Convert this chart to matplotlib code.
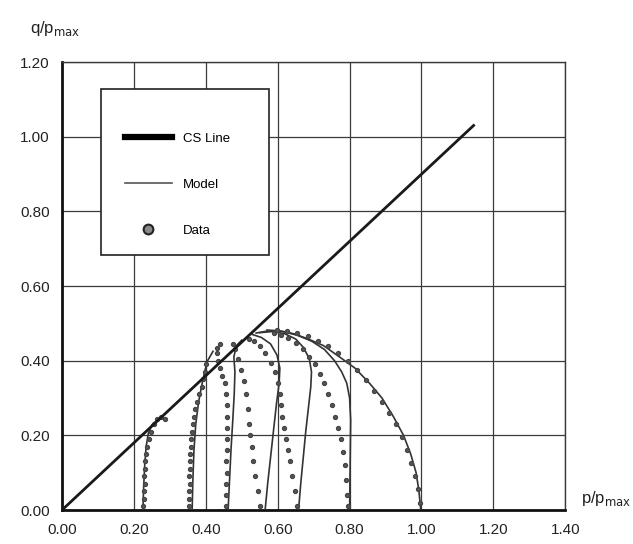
import matplotlib
matplotlib.use('Agg')
import matplotlib.pyplot as plt
from matplotlib.lines import Line2D
from matplotlib.patches import Rectangle

plt.rcParams['font.family'] = ['Liberation Sans', 'DejaVu Sans']

# critical state line
cs_p = [0.0, 1.145]
cs_q = [0.0, 1.03]

# model stress paths (p/pmax, q/pmax)
model_p = [
    [0.225, 0.227, 0.230, 0.234, 0.240, 0.250, 0.262],
    [0.362, 0.364, 0.367, 0.372, 0.380, 0.390, 0.398, 0.405, 0.420],
    [0.462, 0.466, 0.470, 0.475, 0.479, 0.481, 0.478, 0.485, 0.500],
    [0.565, 0.572, 0.580, 0.588, 0.596, 0.604, 0.606, 0.598, 0.580, 0.555, 0.530],
    [0.658, 0.664, 0.671, 0.678, 0.685, 0.692, 0.694, 0.688, 0.672, 0.650, 0.620, 0.585, 0.550],
    [0.800, 0.801, 0.802, 0.803, 0.800, 0.792, 0.778, 0.758, 0.730, 0.695, 0.655, 0.615, 0.575, 0.540],
    [0.998, 0.993, 0.985, 0.970, 0.950, 0.922, 0.890, 0.855, 0.815, 0.772, 0.728, 0.685, 0.645, 0.605, 0.570],
]
model_q = [
    [0.0, 0.06, 0.12, 0.17, 0.205, 0.228, 0.238],
    [0.0, 0.08, 0.16, 0.23, 0.29, 0.34, 0.375, 0.40, 0.425],
    [0.0, 0.08, 0.16, 0.24, 0.31, 0.37, 0.41, 0.44, 0.455],
    [0.0, 0.07, 0.14, 0.21, 0.28, 0.34, 0.38, 0.415, 0.445, 0.462, 0.47],
    [0.0, 0.07, 0.14, 0.21, 0.27, 0.33, 0.37, 0.405, 0.435, 0.458, 0.472, 0.478, 0.475],
    [0.0, 0.08, 0.16, 0.24, 0.30, 0.34, 0.37, 0.40, 0.43, 0.452, 0.468, 0.478, 0.48, 0.474],
    [0.0, 0.05, 0.10, 0.15, 0.20, 0.25, 0.30, 0.34, 0.38, 0.41, 0.44, 0.458, 0.472, 0.48, 0.482],
]

# measured stress paths
data_p = [
    [0.226, 0.229, 0.228, 0.230, 0.229, 0.231, 0.232, 0.234, 0.237, 0.241, 0.247, 0.255, 0.265, 0.276, 0.287],
    [0.352, 0.354, 0.353, 0.355, 0.354, 0.356, 0.355, 0.357, 0.358, 0.360, 0.362, 0.364, 0.367, 0.371,
     0.376, 0.382, 0.388, 0.393, 0.397, 0.400],
    [0.456, 0.457, 0.456, 0.458, 0.457, 0.459, 0.458, 0.460, 0.459, 0.458, 0.456, 0.452, 0.446, 0.440,
     0.434, 0.430, 0.432, 0.440],
    [0.552, 0.545, 0.538, 0.532, 0.528, 0.524, 0.520, 0.516, 0.511, 0.505, 0.498, 0.490, 0.482, 0.475],
    [0.655, 0.648, 0.641, 0.635, 0.629, 0.623, 0.618, 0.613, 0.609, 0.605, 0.600, 0.592, 0.580, 0.566,
     0.550, 0.535, 0.520],
    [0.796, 0.793, 0.790, 0.786, 0.781, 0.775, 0.768, 0.760, 0.751, 0.741, 0.730, 0.718, 0.704, 0.688,
     0.670, 0.650, 0.630, 0.610, 0.590],
    [0.995, 0.990, 0.982, 0.972, 0.960, 0.945, 0.928, 0.910, 0.890, 0.868, 0.845, 0.820, 0.795, 0.768,
     0.740, 0.712, 0.684, 0.655, 0.625, 0.598],
]
data_q = [
    [0.01, 0.03, 0.05, 0.07, 0.09, 0.11, 0.13, 0.15, 0.17, 0.19, 0.21, 0.23, 0.245, 0.25, 0.245],
    [0.01, 0.03, 0.05, 0.07, 0.09, 0.11, 0.13, 0.15, 0.17, 0.19, 0.21, 0.23, 0.25, 0.27, 0.29, 0.31,
     0.33, 0.35, 0.37, 0.39],
    [0.01, 0.04, 0.07, 0.10, 0.13, 0.16, 0.19, 0.22, 0.25, 0.28, 0.31, 0.34, 0.36, 0.38, 0.40, 0.42,
     0.435, 0.445],
    [0.01, 0.05, 0.09, 0.13, 0.17, 0.20, 0.23, 0.27, 0.31, 0.345, 0.375, 0.405, 0.43, 0.445],
    [0.01, 0.05, 0.09, 0.13, 0.16, 0.19, 0.22, 0.25, 0.28, 0.31, 0.34, 0.37, 0.395, 0.42, 0.44, 0.452,
     0.458],
    [0.01, 0.04, 0.08, 0.12, 0.155, 0.19, 0.22, 0.25, 0.28, 0.31, 0.34, 0.365, 0.39, 0.41, 0.43,
     0.447, 0.46, 0.47, 0.474],
    [0.02, 0.055, 0.09, 0.125, 0.16, 0.195, 0.23, 0.26, 0.29, 0.32, 0.348, 0.375, 0.40, 0.42, 0.438,
     0.453, 0.465, 0.474, 0.48, 0.482],
]

ticks_x = [0.0, 0.2, 0.4, 0.6, 0.8, 1.0, 1.2, 1.4]
ticks_y = [0.0, 0.2, 0.4, 0.6, 0.8, 1.0, 1.2]

fig = plt.figure(figsize=(6.33, 5.44), dpi=100)
ax = fig.add_axes([0.098, 0.0625, 0.795, 0.8235])

ax.plot(cs_p, cs_q, color='#1a1a1a', lw=2.0, zorder=4)
for p, q in zip(model_p, model_q):
    ax.plot(p, q, color='#333333', lw=1.2, zorder=3)
for p, q in zip(data_p, data_q):
    ax.plot(p, q, ls='none', marker='o', ms=2.8, color='#5a5a5a', mec='#444444', zorder=3)

ax.set_xlim(0, 1.4)
ax.set_ylim(0, 1.2)
ax.set_xticks(ticks_x)
ax.set_yticks(ticks_y)
ax.set_xticklabels(['%.2f' % t for t in ticks_x])
ax.set_yticklabels(['%.2f' % t for t in ticks_y])
ax.tick_params(length=0, labelsize=11, pad=9, colors='#222222')
ax.grid(True, color='#3a3a3a', lw=0.9)
ax.set_axisbelow(True)
for side in ['top', 'right']:
    ax.spines[side].set_linewidth(1.0)
    ax.spines[side].set_color('#3a3a3a')
for side in ['bottom', 'left']:
    ax.spines[side].set_linewidth(2.0)
    ax.spines[side].set_color('#111111')

fig.text(0.047, 0.94, r'q/p$_{\rm max}$', fontsize=12, color='#222222')
fig.text(0.918, 0.075, r'p/p$_{\rm max}$', fontsize=12, color='#222222')

# legend frame drawn on its own, entries placed inside it
ax.add_patch(Rectangle((0.0775, 0.569), 0.333, 0.371, transform=ax.transAxes,
                       facecolor='white', edgecolor='#222222', lw=1.2, zorder=5))
handles = [
    Line2D([], [], color='black', lw=4.5),
    Line2D([], [], color='#555555', lw=1.2),
    Line2D([], [], ls='none', marker='o', ms=7, color='#8a8a8a', mec='#222222', mew=1.5),
]
leg = ax.legend(handles, ['CS Line', 'Model', 'Data'], loc='upper left',
                bbox_to_anchor=(0.125, 0.842), frameon=False, fontsize=9.5,
                labelspacing=2.55, borderpad=0.0, handlelength=3.55,
                handletextpad=0.85, borderaxespad=0.0)
leg.set_zorder(6)

plt.savefig('out.png', dpi=100)
plt.close()
